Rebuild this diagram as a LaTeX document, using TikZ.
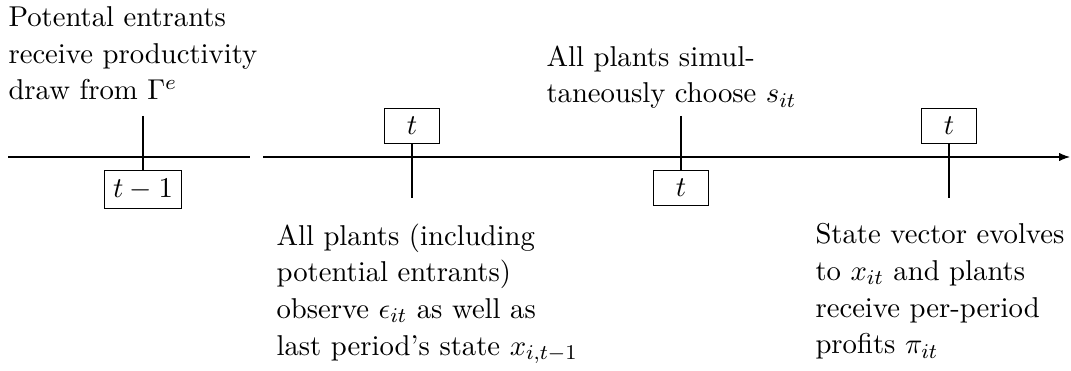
\documentclass[tikz,border=0pt]{standalone}
\usetikzlibrary{arrows.meta}
\begin{document}
\begin{tikzpicture}[x=0.3817pt, y=-0.3817pt,
  font=\fontsize{10.95}{14}\selectfont,
  axis/.style={line width=0.4pt},
  tickmark/.style={line width=0.8pt},
  datebox/.style={draw, line width=0.4pt, inner sep=0.3333em, minimum width=21pt},
  note/.style={align=left, inner sep=0pt, anchor=north west}]
\useasboundingbox (0,0) rectangle (1071,371);

% time line, broken between t-1 and t
\coordinate (L0) at (8,157);
\coordinate (L1) at (250,157);
\coordinate (R0) at (263,157);
\coordinate (R1) at (1070,157);
\draw[axis] (L0) -- (L1);
\draw[axis, -{Latex[length=4.2pt, width=3.2pt]}] (R0) -- (R1);

% event 1: entrants' draw (period t-1)
\coordinate (a1) at (143,116);
\node[datebox, anchor=north] (b1) at (143,170) {$t-1$};
\draw[tickmark] (a1) -- (b1.north);
\node[note] (n1) at (8,6) {Potental entrants\\receive productivity\\draw from $\Gamma^e$};

% event 2: observation of shocks and states
\node[datebox, anchor=south] (b2) at (412,144) {$t$};
\coordinate (a2) at (412,198);
\draw[tickmark] (b2.south) -- (a2);
\node[note] (n2) at (276,223) {All plants (including\\potential entrants)\\observe $\epsilon_{it}$ as well as\\last period's state $x_{i,t-1}$};

% event 3: choice of actions
\coordinate (a3) at (681,116);
\node[datebox, anchor=north] (b3) at (681,170) {$t$};
\draw[tickmark] (a3) -- (b3.north);
\node[note] (n3) at (546,45) {All plants simul-\\taneously choose $s_{it}$};

% event 4: state transition and profits
\node[datebox, anchor=south] (b4) at (949,144) {$t$};
\coordinate (a4) at (949,198);
\draw[tickmark] (b4.south) -- (a4);
\node[note] (n4) at (815,223) {State vector evolves\\to $x_{it}$ and plants\\receive per-period\\profits $\pi_{it}$};
\end{tikzpicture}
\end{document}
